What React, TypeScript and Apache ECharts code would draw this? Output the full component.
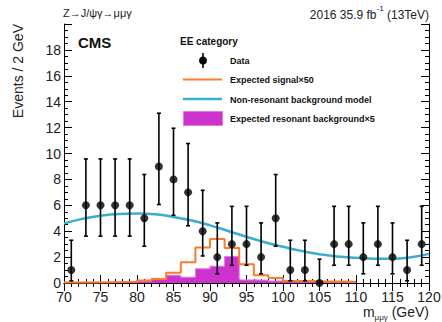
import React, { useEffect, useRef } from "react";
import * as echarts from "echarts";

// Observed events per 2 GeV bin (bin centres) with Poisson error-bar ends
const binCenters = [71, 73, 75, 77, 79, 81, 83, 85, 87, 89, 91, 93, 95, 97, 99, 101, 103, 105, 107, 109, 111, 113, 115, 117, 119];
const counts = [1, 6, 6, 6, 6, 5, 9, 8, 7, 4, 2, 3, 3, 2, 5, 1, 1, 0, 3, 3, 2, 3, 2, 1, 3];
const errLow = [0.17, 3.62, 3.62, 3.62, 3.62, 2.84, 6.06, 5.23, 4.42, 2.09, 0.71, 1.37, 1.37, 0.71, 2.84, 0.17, 0.17, 0, 1.37, 1.37, 0.71, 1.37, 0.71, 0.17, 1.37];
const errHigh = [3.3, 9.58, 9.58, 9.58, 9.58, 8.38, 13.11, 11.95, 10.77, 7.16, 4.64, 5.92, 5.92, 4.64, 8.38, 3.3, 3.3, 1.84, 5.92, 5.92, 4.64, 5.92, 4.64, 3.3, 5.92];

// Template histograms, left bin edges 70..108 (2 GeV bins), ending at 110
const histEdges = [70, 72, 74, 76, 78, 80, 82, 84, 86, 88, 90, 92, 94, 96, 98, 100, 102, 104, 106, 108];
const signalX50 = [0.03, 0.04, 0.05, 0.07, 0.1, 0.2, 0.3, 0.8, 1.6, 2.75, 3.4, 2.7, 1.45, 0.6, 0.38, 0.15, 0.15, 0.12, 0.12, 0.1];
const resonantX5 = [0.05, 0.06, 0.07, 0.08, 0.1, 0.15, 0.28, 0.6, 0.45, 1.1, 1.3, 2.05, 0.24, 0.22, 0.15, 0.1, 0.1, 0.08, 0.08, 0.08];
const histEnd = 110;

// Non-resonant background model
const bkgMass = [70, 72.5, 75, 77.5, 80, 82.5, 85, 87.5, 90, 92.5, 95, 97.5, 100, 102.5, 105, 107.5, 110, 112.5, 115, 117.5, 120];
const bkgModel = [4.6, 4.95, 5.2, 5.33, 5.36, 5.3, 5.1, 4.82, 4.45, 4.02, 3.56, 3.15, 2.8, 2.48, 2.22, 2.05, 1.95, 1.88, 1.87, 1.98, 2.25];

const X_MIN = 70, X_MAX = 120, X_STEP = 5;
const Y_MIN = 0, Y_MAX = 20, Y_STEP = 2;

const FONT = "'Liberation Sans', Arial, sans-serif";
const ORANGE = "#ff7a2a";
const BLUE = "#3aaed0";
const MAGENTA = "#cc33cc";

function stepData(values: number[]) {
  const d = histEdges.map((e, i) => [e, values[i]]);
  d.push([histEnd, values[values.length - 1]]);
  return d;
}

export default function App() {
  const ref = useRef<HTMLDivElement>(null);

  useEffect(() => {
    document.body.style.margin = "0";
    const chart = echarts.init(ref.current!, undefined, { renderer: "svg" });

    const tickCommon = {
      axisLine: { show: true, lineStyle: { color: "#000", width: 1 } },
      axisTick: { show: true, inside: true, length: 8, lineStyle: { color: "#000", width: 1 } },
      minorTick: { show: true, length: 4, lineStyle: { color: "#000", width: 1 } },
      splitLine: { show: false },
      minorSplitLine: { show: false },
    };

    const option: any = {
      animation: false,
      grid: { left: 64, right: 13, top: 24, bottom: 39, containLabel: false, outerBoundsMode: "none" },
      xAxis: [
        {
          type: "value", min: X_MIN, max: X_MAX, interval: X_STEP, position: "bottom",
          ...tickCommon,
          minorTick: { ...tickCommon.minorTick, splitNumber: 5 },
          axisLabel: { fontFamily: FONT, fontSize: 14, lineHeight: 14, color: "#222", margin: 7 },
        },
        {
          type: "value", min: X_MIN, max: X_MAX, interval: X_STEP, position: "top",
          ...tickCommon,
          minorTick: { ...tickCommon.minorTick, splitNumber: 5 },
          axisLabel: { show: false },
        },
      ],
      yAxis: [
        {
          type: "value", min: Y_MIN, max: Y_MAX, interval: Y_STEP, position: "left",
          ...tickCommon,
          minorTick: { ...tickCommon.minorTick, splitNumber: 4 },
          axisLabel: { fontFamily: FONT, fontSize: 14, lineHeight: 14, color: "#222", margin: 3, showMaxLabel: false },
        },
        {
          type: "value", min: Y_MIN, max: Y_MAX, interval: Y_STEP, position: "right",
          ...tickCommon,
          minorTick: { ...tickCommon.minorTick, splitNumber: 4 },
          axisLabel: { show: false },
        },
      ],
      series: [
        {
          name: "Expected resonant background×5",
          type: "line", step: "end", symbol: "none",
          data: stepData(resonantX5),
          lineStyle: { color: "#e07ae0", width: 1 },
          areaStyle: { color: MAGENTA, opacity: 1 },
          z: 2,
        },
        {
          name: "Expected signal×50",
          type: "line", step: "end", symbol: "none",
          data: stepData(signalX50),
          lineStyle: { color: ORANGE, width: 2 },
          z: 3,
        },
        {
          name: "Non-resonant background model",
          type: "line", smooth: true, symbol: "none",
          data: bkgMass.map((m, i) => [m, bkgModel[i]]),
          lineStyle: { color: BLUE, width: 2.5 },
          z: 4,
        },
        {
          name: "Data errors",
          type: "custom",
          data: binCenters.map((x, i) => [x, errLow[i], errHigh[i]]),
          encode: { x: 0, y: [1, 2] },
          clip: false,
          z: 5,
          renderItem: (params: any, api: any) => {
            const x = api.value(0);
            const lo = api.coord([x, api.value(1)]);
            const hi = api.coord([x, api.value(2)]);
            const style = { stroke: "#000", lineWidth: 1.6 };
            const cap = 2;
            return {
              type: "group",
              children: [
                { type: "line", shape: { x1: lo[0], y1: lo[1], x2: hi[0], y2: hi[1] }, style },
                { type: "line", shape: { x1: hi[0] - cap, y1: hi[1], x2: hi[0] + cap, y2: hi[1] }, style },
                { type: "line", shape: { x1: lo[0] - cap, y1: lo[1], x2: lo[0] + cap, y2: lo[1] }, style },
              ],
            };
          },
        },
        {
          name: "Data",
          type: "scatter",
          data: binCenters.map((x, i) => [x, counts[i]]),
          symbol: "circle", symbolSize: 8,
          itemStyle: { color: "#000" },
          clip: false,
          z: 6,
        },
      ],
      graphic: [
        {
          type: "text", left: 63, top: 7,
          style: { text: "Z→J/ψγ→μμγ", fontFamily: FONT, fontSize: 11, fill: "#222" },
        },
        {
          type: "text", right: 13, top: 4,
          style: {
            text: "{n|2016 35.9 fb}{s|-1}{n| (13TeV)}",
            rich: {
              n: { fontFamily: FONT, fontSize: 12, fill: "#222", lineHeight: 17, verticalAlign: "bottom" },
              s: { fontFamily: FONT, fontSize: 8, fill: "#222", lineHeight: 17, verticalAlign: "top" },
            },
          },
        },
        {
          type: "text", x: 18, y: 24, rotation: Math.PI / 2,
          style: { text: "Events / 2 GeV", fontFamily: FONT, fontSize: 14, fill: "#222", align: "right", verticalAlign: "middle" },
        },
        {
          type: "text", right: 13, top: 305,
          style: {
            text: "{n|m}{s|μμγ}{n| (GeV)}",
            rich: {
              n: { fontFamily: FONT, fontSize: 14, fill: "#222", lineHeight: 16, verticalAlign: "top" },
              s: { fontFamily: FONT, fontSize: 8, fill: "#222", lineHeight: 16, verticalAlign: "bottom" },
            },
          },
        },
        {
          type: "text", x: 78, y: 42,
          style: { text: "CMS", fontFamily: FONT, fontSize: 15, fontWeight: "bold", fill: "#111", verticalAlign: "middle" },
        },
        {
          type: "text", x: 180, y: 41,
          style: { text: "EE category", fontFamily: FONT, fontSize: 10, fontWeight: "bold", fill: "#111", verticalAlign: "middle" },
        },
        // legend: data marker
        { type: "line", shape: { x1: 203, y1: 53, x2: 203, y2: 68 }, style: { stroke: "#000", lineWidth: 1.6 } },
        { type: "circle", shape: { cx: 203, cy: 60.5, r: 4 }, style: { fill: "#000" } },
        {
          type: "text", x: 230, y: 61,
          style: { text: "Data", fontFamily: FONT, fontSize: 9, fontWeight: "bold", fill: "#111", verticalAlign: "middle" },
        },
        // legend: signal
        { type: "line", shape: { x1: 183, y1: 79.5, x2: 222, y2: 79.5 }, style: { stroke: ORANGE, lineWidth: 2 } },
        {
          type: "text", x: 230, y: 80,
          style: { text: "Expected signal×50", fontFamily: FONT, fontSize: 9, fontWeight: "bold", fill: "#111", verticalAlign: "middle" },
        },
        // legend: non-resonant background
        { type: "line", shape: { x1: 183, y1: 99, x2: 222, y2: 99 }, style: { stroke: BLUE, lineWidth: 2.5 } },
        {
          type: "text", x: 230, y: 99.5,
          style: { text: "Non-resonant background model", fontFamily: FONT, fontSize: 9, fontWeight: "bold", fill: "#111", verticalAlign: "middle" },
        },
        // legend: resonant background
        { type: "rect", shape: { x: 183.5, y: 111.5, width: 39, height: 14 }, style: { fill: MAGENTA, stroke: "#e07ae0", lineWidth: 1 } },
        {
          type: "text", x: 230, y: 119,
          style: { text: "Expected resonant background×5", fontFamily: FONT, fontSize: 9, fontWeight: "bold", fill: "#111", verticalAlign: "middle" },
        },
      ],
    };

    chart.setOption(option);
    return () => chart.dispose();
  }, []);

  return <div ref={ref} style={{ width: 442, height: 322, background: "#fff" }} />;
}
